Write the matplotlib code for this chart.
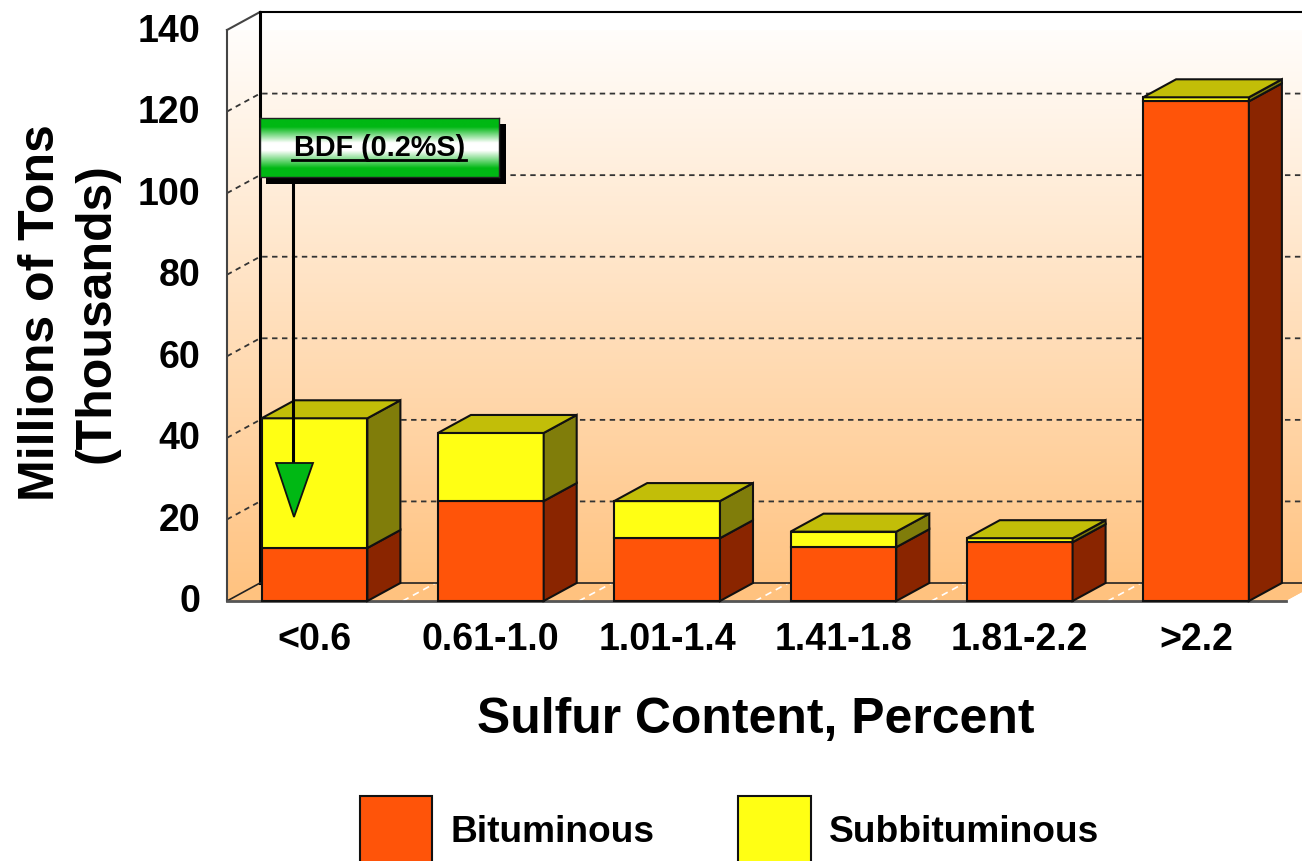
import numpy as np
import matplotlib
matplotlib.use("Agg")
import matplotlib.pyplot as plt
from matplotlib.colors import LinearSegmentedColormap
from matplotlib.patches import Polygon
from matplotlib.transforms import Affine2D

plt.rcParams["font.family"] = ["Liberation Sans", "DejaVu Sans"]
plt.rcParams["font.weight"] = "bold"

categories = ["<0.6", "0.61-1.0", "1.01-1.4", "1.41-1.8", "1.81-2.2", ">2.2"]
bituminous = [13.0, 24.5, 15.4, 13.2, 14.4, 122.5]
subbituminous = [31.8, 16.7, 9.1, 3.8, 1.0, 1.0]
y_ticks = [0, 20, 40, 60, 80, 100, 120, 140]

W, H = 1302, 861
ORANGE, ORANGE_SIDE = "#FF5409", "#8A2500"
YELLOW, YELLOW_SIDE = "#FFFF14", "#807D0A"
TOP = "#C2BE08"
GREEN = "#00B814"

fig = plt.figure(figsize=(W / 100, H / 100), dpi=100, facecolor="white")
ax = fig.add_axes([227 / W, (H - 601) / H, (W - 227) / W, 571 / H])
ax.set_xlim((227 - 314.5) / 176.3, (W - 314.5) / 176.3)
ax.set_ylim(0, 140)

# depth of the fake 3d box, in data units
dx = 33 / 176.3
dy = 18 / 4.08
x_min, x_max = ax.get_xlim()
pixels = Affine2D().scale(1, -1).translate(0, H)

# wall gradient
wall_cmap = LinearSegmentedColormap.from_list("wall", ["#FFFFFF", "#FFC27F"])
wall = ax.imshow(
    np.linspace(0, 1, 256).reshape(-1, 1),
    cmap=wall_cmap,
    aspect="auto",
    extent=[x_min, x_max, 0, 140 + dy],
    origin="upper",
    zorder=0,
)
ax.set_xlim(x_min, x_max)
ax.set_ylim(0, 140)
outline = Polygon(
    [
        (x_min, 0),
        (x_min, 140),
        (x_min + dx, 140 + dy),
        (x_max, 140 + dy),
        (x_max, dy / 2),
        (x_max - dx / 2, 0),
    ],
    transform=ax.transData,
    facecolor="none",
    edgecolor="none",
)
ax.add_patch(outline)
outline.set_clip_on(False)
# the wall pokes out above the axes, so only the polygon clips it
wall.set_clip_box(None)
wall.set_clip_path(outline)

# floor
ax.add_patch(
    Polygon(
        [(x_min, 0), (x_min + dx, dy), (x_max, dy), (x_max, dy / 2), (x_max - dx / 2, 0)],
        facecolor="#FFC27F",
        edgecolor="none",
        zorder=0.5,
        clip_on=False,
    )
)
for i in range(len(categories) - 1):
    ax.plot(
        [i + 0.5, i + 0.5 + dx],
        [0, dy],
        color="white",
        lw=1.2,
        ls=(0, (4, 3)),
        zorder=1,
    )

# gridlines run across the side wall and the back wall
for t in y_ticks[1:-1]:
    ax.plot(
        [x_min, x_min + dx, x_max],
        [t, t + dy, t + dy],
        color="#333333",
        lw=1.3,
        ls=(0, (3, 2.5)),
        zorder=1,
        clip_on=False,
    )

# box frame
ax.plot([x_min, x_min], [0, 140], color="#444444", lw=1.5, zorder=2, clip_on=False)
ax.plot([x_min, x_min + dx], [140, 140 + dy], color="#444444", lw=1.5, zorder=2, clip_on=False)
ax.plot([x_min + dx, x_min + dx], [dy, 140 + dy], color="black", lw=2.2, zorder=2, clip_on=False)
ax.plot([x_min + dx, x_max], [140 + dy, 140 + dy], color="black", lw=1.5, zorder=2, clip_on=False)
ax.plot([x_min, x_min + dx, x_max], [0, dy, dy], color="#222222", lw=1.2, zorder=2, clip_on=False)
ax.plot([x_min, x_max - dx / 2], [0, 0], color="#555555", lw=2.0, zorder=2, clip_on=False)

# bars
x = np.arange(len(categories))
width = 0.6
bit = np.array(bituminous)
sub = np.array(subbituminous)
edge = dict(edgecolor="#111111", linewidth=1.5, zorder=3)
bar_bit = ax.bar(x, bit, width, color=ORANGE, label="Bituminous", clip_on=False, **edge)
bar_sub = ax.bar(x, sub, width, bottom=bit, color=YELLOW, label="Subbituminous", clip_on=False, **edge)

for xi, b, s in zip(x, bit, sub):
    r = xi + width / 2
    l = xi - width / 2
    tot = b + s
    ax.add_patch(
        Polygon([(r, 0), (r + dx, dy), (r + dx, b + dy), (r, b)], facecolor=ORANGE_SIDE, clip_on=False, **edge)
    )
    ax.add_patch(
        Polygon([(r, b), (r + dx, b + dy), (r + dx, tot + dy), (r, tot)], facecolor=YELLOW_SIDE, clip_on=False, **edge)
    )
    ax.add_patch(
        Polygon([(l, tot), (l + dx, tot + dy), (r + dx, tot + dy), (r, tot)], facecolor=TOP, clip_on=False, **edge)
    )

# axes text
for spine in ax.spines.values():
    spine.set_visible(False)
ax.set_xticks(x, categories)
ax.set_yticks(y_ticks)
ax.tick_params(axis="both", length=0, labelsize=27)
ax.tick_params(axis="x", pad=15)
ax.tick_params(axis="y", pad=19)
for label in ax.get_yticklabels():
    label.set_transform(label.get_transform() + Affine2D().translate(0, 2.5))

fig.text(756 / W, 1 - 720 / H, "Sulfur Content, Percent", fontsize=35.9, ha="center", va="center")
fig.text(
    69 / W,
    1 - 313 / H,
    "Millions of Tons\n(Thousands)",
    fontsize=36,
    rotation=90,
    ha="center",
    va="center",
    linespacing=1.25,
)

# legend runs off the bottom of the picture
ax.legend(
    handles=[bar_bit, bar_sub],
    loc="upper left",
    bbox_to_anchor=(360, 796),
    bbox_transform=pixels,
    frameon=False,
    ncol=2,
    fontsize=26.7,
    borderpad=0,
    borderaxespad=0,
    handlelength=1.95,
    handleheight=2.5,
    handletextpad=0.5,
    columnspacing=2.25,
)

# BDF callout
ax.plot([293, 293], [177, 464], color="black", lw=2.2, transform=pixels, zorder=5, clip_on=False)
ax.add_patch(
    Polygon(
        [(276, 463), (313, 463), (294, 517)],
        transform=pixels,
        facecolor="#00B814",
        edgecolor="#111111",
        linewidth=1.3,
        zorder=6,
        clip_on=False,
    )
)
ax.add_patch(
    Polygon(
        [(266, 124), (506, 124), (506, 184), (266, 184)],
        transform=pixels,
        facecolor="black",
        edgecolor="none",
        zorder=5,
        clip_on=False,
    )
)

box = fig.add_axes([260 / W, (H - 177) / H, 239 / W, 59 / H], zorder=10)
box_cmap = LinearSegmentedColormap.from_list(
    "bdf",
    [(0, GREEN), (0.15, GREEN), (0.42, "#FFFFFF"), (0.55, "#FFFFFF"), (0.85, GREEN), (1, GREEN)],
    N=256,
)
box.imshow(np.linspace(0, 1, 256).reshape(-1, 1), cmap=box_cmap, aspect="auto")
box.set_xticks([])
box.set_yticks([])
for spine in box.spines.values():
    spine.set_color("#222222")
    spine.set_linewidth(1.0)
box.text(0.5, 0.5, "BDF (0.2%S)", fontsize=20.8, ha="center", va="center", transform=box.transAxes)
box.plot([0.135, 0.86], [0.29, 0.29], color="black", lw=2.0, transform=box.transAxes)

fig.savefig("out.png", dpi=100)
